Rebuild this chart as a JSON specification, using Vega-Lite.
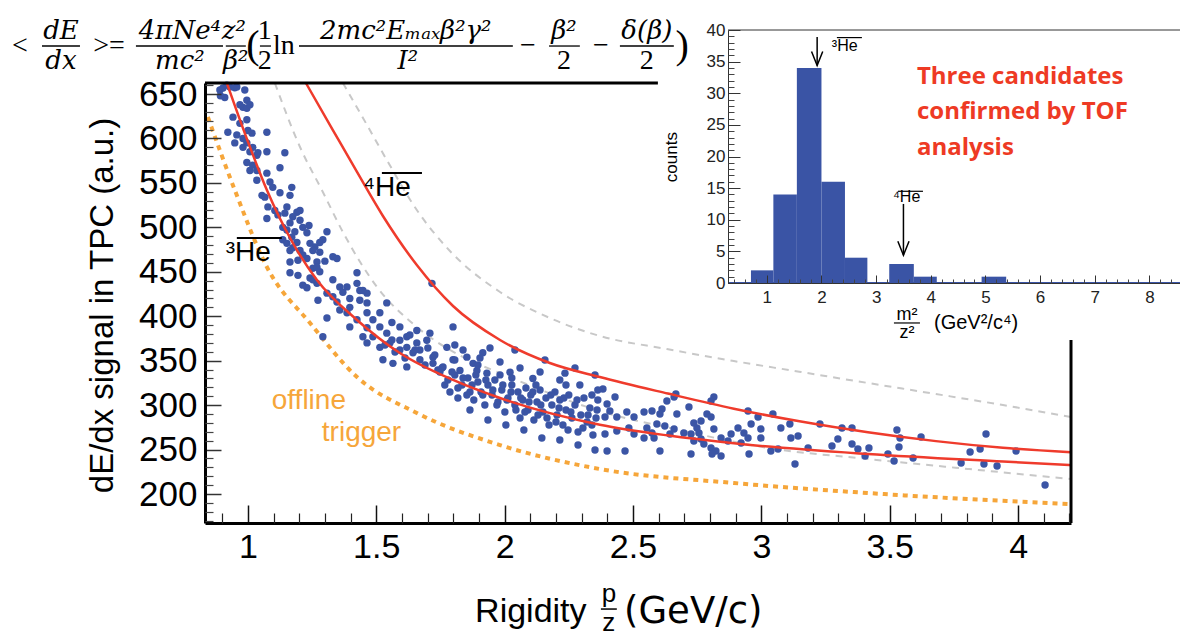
{
"$schema": "https://vega.github.io/schema/vega-lite/v6.json",
"width": 866, "height": 440,
"autosize": {"type": "none"},
"padding": {"left": 205, "top": 83, "right": 109, "bottom": 113},
"background": "white",
"config": {"view": {"stroke": null}, "axis": {"grid": false, "domain": false, "labelFlush": false, "labelOverlap": false, "labelFont": "Liberation Sans", "labelColor": "black", "tickColor": "#222", "title": null}},
"datasets": {
"one": [{}],
"grey": [
{"c":"g1","r":1.105,"s":662.4},{"c":"g1","r":1.203,"s":590.4},{"c":"g1","r":1.292,"s":539.8},{"c":"g1","r":1.370,"s":494.8},{"c":"g1","r":1.503,"s":432.9},{"c":"g1","r":1.658,"s":387.9},{"c":"g1","r":1.838,"s":354.1},{"c":"g1","r":1.982,"s":336.1},{"c":"g1","r":2.371,"s":293.4},{"c":"g1","r":2.698,"s":270.9},{"c":"g1","r":3.026,"s":251.8},{"c":"g1","r":3.415,"s":239.4},{"c":"g1","r":3.809,"s":228.1},{"c":"g1","r":4.206,"s":216.9},
{"c":"g2","r":1.370,"s":662.4},{"c":"g2","r":1.464,"s":615.1},{"c":"g2","r":1.541,"s":575.8},{"c":"g2","r":1.658,"s":519.5},{"c":"g2","r":1.787,"s":473.4},{"c":"g2","r":1.982,"s":427.3},{"c":"g2","r":2.176,"s":398},{"c":"g2","r":2.371,"s":377.8},{"c":"g2","r":2.632,"s":363.1},{"c":"g2","r":2.893,"s":349.6},{"c":"g2","r":3.154,"s":337.3},{"c":"g2","r":3.415,"s":324.9},{"c":"g2","r":3.680,"s":312.5},{"c":"g2","r":3.941,"s":300.1},{"c":"g2","r":4.206,"s":286.6}],
"orange": [
{"r":0.844,"s":624.1},{"r":0.949,"s":542},{"r":1.074,"s":455.4},{"r":1.242,"s":392.4},{"r":1.425,"s":331.6},{"r":1.658,"s":291.1},{"r":1.982,"s":255.1},{"r":2.371,"s":228.1},{"r":2.893,"s":212.4},{"r":3.415,"s":201.1},{"r":4.206,"s":188.5}],
"red": [
{"c":"he3","r":0.918,"s":662.4},{"c":"he3","r":1.008,"s":590.4},{"c":"he3","r":1.074,"s":542},{"c":"he3","r":1.175,"s":482.4},{"c":"he3","r":1.269,"s":440.8},{"c":"he3","r":1.425,"s":395.8},{"c":"he3","r":1.592,"s":358.6},{"c":"he3","r":1.799,"s":328.3},{"c":"he3","r":1.982,"s":308},{"c":"he3","r":2.371,"s":278},{"c":"he3","r":2.632,"s":266},{"c":"he3","r":2.893,"s":257},{"c":"he3","r":3.415,"s":245},{"c":"he3","r":3.941,"s":236.5},{"c":"he3","r":4.206,"s":232.5},
{"c":"he4","r":1.226,"s":662.4},{"c":"he4","r":1.331,"s":609.5},{"c":"he4","r":1.425,"s":562.3},{"c":"he4","r":1.526,"s":512.8},{"c":"he4","r":1.658,"s":457.6},{"c":"he4","r":1.799,"s":411.5},{"c":"he4","r":1.982,"s":373.3},{"c":"he4","r":2.176,"s":347.4},{"c":"he4","r":2.371,"s":331.6},{"c":"he4","r":2.636,"s":313},{"c":"he4","r":2.893,"s":296},{"c":"he4","r":3.154,"s":281.5},{"c":"he4","r":3.415,"s":269.5},{"c":"he4","r":3.680,"s":259.5},{"c":"he4","r":3.941,"s":252},{"c":"he4","r":4.206,"s":247}],
"points": [
{"r":0.891,"s":654.5},{"r":0.903,"s":656.8},{"r":0.930,"s":658},{"r":0.949,"s":657},{"r":0.893,"s":648},{"r":0.988,"s":654.5},{"r":0.996,"s":643},{"r":0.981,"s":635},{"r":0.996,"s":634},{"r":0.942,"s":624},{"r":0.969,"s":617},{"r":0.996,"s":621},{"r":0.922,"s":607},{"r":0.957,"s":604},{"r":0.981,"s":600},{"r":1.000,"s":609},{"r":1.016,"s":606},{"r":0.949,"s":595},{"r":0.981,"s":590},{"r":0.996,"s":595},{"r":1.019,"s":590},{"r":1.035,"s":581},{"r":0.996,"s":573},{"r":1.019,"s":570},{"r":1.008,"s":564},{"r":1.035,"s":564},{"r":1.035,"s":553},{"r":0.918,"s":660},{"r":0.910,"s":646},{"r":0.957,"s":658},{"r":1.008,"s":638},{"r":0.969,"s":638},{"r":1.074,"s":607},{"r":1.008,"s":585},{"r":1.039,"s":584},{"r":1.074,"s":585},{"r":1.144,"s":584},{"r":1.125,"s":567},{"r":1.074,"s":561},{"r":1.086,"s":551},{"r":1.097,"s":545},{"r":1.171,"s":545},{"r":1.125,"s":539},{"r":1.164,"s":536},{"r":1.055,"s":536},{"r":1.066,"s":534},{"r":1.078,"s":523},{"r":1.105,"s":519},{"r":1.074,"s":510},{"r":1.152,"s":523},{"r":1.144,"s":516},{"r":1.191,"s":517},{"r":1.175,"s":512},{"r":1.203,"s":508},{"r":1.203,"s":519},{"r":1.164,"s":505},{"r":1.214,"s":500},{"r":1.152,"s":497},{"r":1.183,"s":495},{"r":1.230,"s":494},{"r":1.308,"s":495},{"r":1.136,"s":486},{"r":1.171,"s":489},{"r":1.191,"s":483},{"r":1.242,"s":482},{"r":1.292,"s":486},{"r":1.175,"s":477},{"r":1.203,"s":474},{"r":1.261,"s":478},{"r":1.280,"s":472},{"r":1.331,"s":467},{"r":1.164,"s":461},{"r":1.195,"s":463},{"r":1.230,"s":465},{"r":1.269,"s":461},{"r":1.300,"s":462},{"r":1.164,"s":449},{"r":1.195,"s":446},{"r":1.253,"s":454},{"r":1.280,"s":450},{"r":1.242,"s":443},{"r":1.331,"s":441},{"r":1.269,"s":437},{"r":1.358,"s":433},{"r":1.425,"s":449},{"r":1.230,"s":432},{"r":1.308,"s":426},{"r":1.331,"s":422},{"r":1.370,"s":427},{"r":1.425,"s":437},{"r":1.436,"s":429},{"r":1.464,"s":426},{"r":1.273,"s":418},{"r":1.347,"s":416},{"r":1.397,"s":420},{"r":1.436,"s":418},{"r":1.358,"s":407},{"r":1.397,"s":410},{"r":1.464,"s":415},{"r":1.386,"s":404},{"r":1.425,"s":396},{"r":1.464,"s":404},{"r":1.487,"s":396},{"r":1.514,"s":404},{"r":1.541,"s":415},{"r":1.308,"s":398},{"r":1.397,"s":388},{"r":1.464,"s":387},{"r":1.514,"s":388},{"r":1.561,"s":393},{"r":1.592,"s":388},{"r":1.658,"s":384},{"r":1.709,"s":381},{"r":1.799,"s":388},{"r":1.448,"s":377},{"r":1.487,"s":377},{"r":1.541,"s":381},{"r":1.592,"s":373},{"r":1.619,"s":377},{"r":1.658,"s":370},{"r":1.697,"s":373},{"r":1.292,"s":377},{"r":1.464,"s":370},{"r":1.514,"s":365},{"r":1.553,"s":370},{"r":1.592,"s":362},{"r":1.619,"s":365},{"r":1.643,"s":359},{"r":1.670,"s":362},{"r":1.721,"s":354},{"r":1.775,"s":365},{"r":1.838,"s":362},{"r":1.853,"s":354},{"r":1.877,"s":347},{"r":1.915,"s":359},{"r":1.526,"s":351},{"r":1.565,"s":347},{"r":1.619,"s":343},{"r":1.670,"s":351},{"r":1.721,"s":347},{"r":1.760,"s":343},{"r":1.799,"s":351},{"r":1.826,"s":339},{"r":1.892,"s":339},{"r":1.931,"s":336},{"r":1.982,"s":334},{"r":2.021,"s":337},{"r":2.110,"s":330},{"r":2.235,"s":336},{"r":1.717,"s":437},{"r":1.117,"s":514},{"r":1.136,"s":500},{"r":1.238,"s":502},{"r":1.152,"s":482},{"r":1.280,"s":483},{"r":1.253,"s":474},{"r":1.164,"s":474},{"r":1.214,"s":469},{"r":1.347,"s":465},{"r":1.269,"s":455},{"r":1.253,"s":441},{"r":1.214,"s":435},{"r":1.386,"s":433},{"r":1.448,"s":429},
{"r":1.748,"s":337.3},{"r":1.767,"s":322.6},{"r":1.787,"s":314.8},{"r":1.806,"s":333.9},{"r":1.818,"s":308},{"r":1.834,"s":322.6},{"r":1.857,"s":330.5},{"r":1.865,"s":314.8},{"r":1.880,"s":305.8},{"r":1.896,"s":326},{"r":1.908,"s":314.8},{"r":1.923,"s":300.1},{"r":1.935,"s":322.6},{"r":1.951,"s":311.4},{"r":1.962,"s":328.3},{"r":1.974,"s":303.5},{"r":1.989,"s":317},{"r":2.001,"s":292.3},{"r":2.013,"s":308},{"r":2.028,"s":322.6},{"r":2.040,"s":300.1},{"r":2.052,"s":314.8},{"r":2.060,"s":285.5},{"r":2.071,"s":305.8},{"r":2.083,"s":319.3},{"r":2.091,"s":294.5},{"r":2.102,"s":311.4},{"r":2.114,"s":283.3},{"r":2.126,"s":303.5},{"r":2.138,"s":317},{"r":2.149,"s":292.3},{"r":2.161,"s":308},{"r":2.173,"s":277.6},{"r":2.184,"s":300.1},{"r":2.196,"s":314.8},{"r":2.204,"s":288.9},{"r":2.215,"s":305.8},{"r":2.227,"s":277.6},{"r":2.239,"s":294.5},{"r":2.250,"s":311.4},{"r":2.262,"s":285.5},{"r":2.274,"s":300.1},{"r":2.286,"s":269.8},{"r":2.297,"s":288.9},{"r":2.309,"s":308},{"r":2.321,"s":281},{"r":2.332,"s":296.8},{"r":2.344,"s":266.4},{"r":2.356,"s":285.5},{"r":2.363,"s":305.8},{"r":1.865,"s":294.5},{"r":1.935,"s":283.3},{"r":2.005,"s":277.6},{"r":2.075,"s":272},{"r":2.145,"s":263},{"r":2.215,"s":260.8},{"r":2.286,"s":255.1},{"r":2.352,"s":249.5},{"r":1.904,"s":353},{"r":1.982,"s":348.5},{"r":2.060,"s":341.8},{"r":2.138,"s":337.3},{"r":2.215,"s":328.3},{"r":2.293,"s":322.6},{"r":2.363,"s":317},{"r":2.040,"s":362},{"r":2.157,"s":350.8},{"r":2.274,"s":341.8},{"r":2.352,"s":333.9},{"r":1.806,"s":367.6},{"r":1.943,"s":364.3},
{"r":1.756,"s":341.8},{"r":1.779,"s":328.3},{"r":1.795,"s":337.3},{"r":1.818,"s":319.3},{"r":1.838,"s":330.5},{"r":1.853,"s":311.4},{"r":1.873,"s":322.6},{"r":1.888,"s":333.9},{"r":1.915,"s":311.4},{"r":1.927,"s":328.3},{"r":1.954,"s":317},{"r":1.970,"s":300.1},{"r":1.993,"s":322.6},{"r":2.009,"s":305.8},{"r":2.025,"s":314.8},{"r":2.044,"s":294.5},{"r":2.063,"s":308},{"r":2.079,"s":292.3},{"r":2.095,"s":303.5},{"r":2.110,"s":314.8},{"r":2.130,"s":288.9},{"r":2.141,"s":300.1},{"r":2.165,"s":285.5},{"r":2.180,"s":311.4},{"r":2.200,"s":281},{"r":2.212,"s":296.8},{"r":2.231,"s":308},{"r":2.247,"s":272},{"r":2.258,"s":292.3},{"r":2.282,"s":305.8},{"r":2.305,"s":274.3},{"r":2.325,"s":288.9},{"r":2.340,"s":277.6},{"r":2.360,"s":294.5},{"r":1.806,"s":350.8},{"r":1.896,"s":345.1},{"r":2.028,"s":330.5},{"r":2.122,"s":322.6},{"r":2.239,"s":322.6},{"r":2.340,"s":311.4},
{"r":1.534,"s":367.6},{"r":1.573,"s":359.8},{"r":1.612,"s":353},{"r":1.651,"s":362},{"r":1.690,"s":345.1},{"r":1.728,"s":356.4},{"r":1.561,"s":373.3},{"r":1.631,"s":378.9},{"r":1.701,"s":364.3},{"r":1.740,"s":339.5},
{"r":2.383,"s":318.1},{"r":2.430,"s":309.1},{"r":2.399,"s":301.3},{"r":2.410,"s":293.4},{"r":2.391,"s":286.6},{"r":2.437,"s":286.6},{"r":2.476,"s":292.3},{"r":2.504,"s":286.6},{"r":2.543,"s":292.3},{"r":2.574,"s":293.4},{"r":2.613,"s":295.6},{"r":2.667,"s":312.5},{"r":2.671,"s":290},{"r":2.484,"s":274.3},{"r":2.504,"s":267.5},{"r":2.437,"s":270.9},{"r":2.391,"s":267.5},{"r":2.399,"s":248.4},{"r":2.469,"s":248.4},{"r":2.543,"s":263},{"r":2.574,"s":268.6},{"r":2.593,"s":278.8},{"r":2.624,"s":276.5},{"r":2.644,"s":267.5},{"r":2.660,"s":273.1},{"r":2.698,"s":268.6},{"r":2.605,"s":248.4},{"r":2.726,"s":245},{"r":2.737,"s":259.6},{"r":2.726,"s":267.5},{"r":2.749,"s":274.3},{"r":2.765,"s":282.1},{"r":2.788,"s":290},{"r":2.804,"s":286.6},{"r":2.815,"s":273.1},{"r":2.757,"s":268.6},{"r":2.765,"s":261.9},{"r":2.776,"s":256.3},{"r":2.804,"s":251.8},{"r":2.804,"s":304.6},{"r":2.815,"s":309.1},{"r":2.823,"s":248.4},{"r":2.843,"s":242.8},{"r":2.882,"s":267.5},{"r":2.909,"s":274.3},{"r":2.932,"s":268.6},{"r":2.921,"s":257.4},{"r":2.948,"s":263},{"r":2.960,"s":278.8},{"r":2.987,"s":286.6},{"r":2.998,"s":273.1},{"r":2.998,"s":263},{"r":3.045,"s":290},{"r":3.076,"s":274.3},{"r":3.111,"s":278.8},{"r":3.115,"s":263},{"r":3.143,"s":265.3},{"r":3.182,"s":251.8},{"r":3.131,"s":233.8},{"r":2.948,"s":293.4},{"r":2.952,"s":245},{"r":3.037,"s":248.4},{"r":3.065,"s":250.6},{"r":3.228,"s":278.8},{"r":3.275,"s":254},{"r":3.298,"s":261.9},{"r":3.314,"s":274.3},{"r":3.353,"s":274.3},{"r":3.353,"s":256.3},{"r":3.376,"s":250.6},{"r":3.404,"s":242.8},{"r":3.419,"s":251.8},{"r":2.554,"s":274.3},{"r":2.582,"s":263},{"r":2.632,"s":304.6},{"r":2.605,"s":290},{"r":2.718,"s":297.9},{"r":2.808,"s":245},{"r":2.843,"s":263},{"r":2.870,"s":259.6},{"r":2.660,"s":309.1},{"r":2.737,"s":279.9},
{"r":3.528,"s":272},{"r":3.540,"s":263},{"r":3.536,"s":252.9},{"r":3.493,"s":245},{"r":3.517,"s":237.1},{"r":3.591,"s":240.5},{"r":3.622,"s":264.1},{"r":3.778,"s":234.9},{"r":3.813,"s":247.3},{"r":3.852,"s":250.6},{"r":3.875,"s":267.5},{"r":3.867,"s":233.8},{"r":3.918,"s":231.5},{"r":3.992,"s":248.4},{"r":4.105,"s":210.1}],
"heMain": [{"t":"⁴He","r":1.448,"s":544},{"t":"³He","r":0.914,"s":471}],
"ovMain": [{"r":1.522,"r2":1.678,"s":561.1},{"r":0.957,"r2":1.132,"s":488}],
"trig": [{"t":"offline","r":1.093,"s":304.6},{"t":"trigger","r":1.288,"s":268.6}],
"fItalic": [{"t":"dE","r":0.272,"s":720.9},{"t":"dx","r":0.272,"s":687.1},{"t":"4πNe⁴","r":0.735,"s":720.9},{"t":"mc²","r":0.735,"s":687.1},{"t":"z²","r":0.945,"s":720.9},{"t":"β²","r":0.953,"s":687.1},{"t":"2mc²Eₘₐₓβ²γ²","r":1.615,"s":720.9},{"t":"I²","r":1.623,"s":687.1},{"t":"β²","r":2.231,"s":720.9},{"t":"δ(β)","r":2.554,"s":720.9}],
"fUpright": [{"t":"<","r":0.112,"s":704},{"t":">=","r":0.459,"s":704},{"t":"1","r":1.066,"s":720.9},{"t":"2","r":1.066,"s":687.1},{"t":"ln","r":1.140,"s":704},{"t":"−","r":2.091,"s":704},{"t":"2","r":2.231,"s":687.1},{"t":"−","r":2.375,"s":704},{"t":"2","r":2.554,"s":687.1}],
"fParen": [{"t":"(","r":1.020,"s":704},{"t":")","r":2.691,"s":704}],
"fBars": [{"r":0.198,"r2":0.346,"s":704},{"r":0.564,"r2":0.903,"s":704},{"r":0.914,"r2":0.992,"s":704},{"r":1.047,"r2":1.090,"s":704},{"r":1.199,"r2":2.032,"s":704},{"r":2.173,"r2":2.293,"s":704},{"r":2.449,"r2":2.659,"s":704}],
"hist": [{"lo":0.71,"hi":1.12,"n":2},{"lo":1.12,"hi":1.55,"n":14},{"lo":1.55,"hi":2.0,"n":34},{"lo":2.0,"hi":2.43,"n":16},{"lo":2.43,"hi":2.84,"n":4},{"lo":3.24,"hi":3.69,"n":3},{"lo":3.69,"hi":4.11,"n":1},{"lo":4.93,"hi":5.38,"n":1}],
"arrows": [{"m":1.921,"top":38.9,"tip":34.4},{"m":3.5,"top":12.5,"tip":4.4}],
"heInset": [{"t":"³He","m":2.19,"n":37.5},{"t":"⁴He","m":3.308,"n":13.6}],
"ovInset": [{"m":2.282,"m2":2.74,"n":38.8},{"m":3.40,"m2":3.857,"n":14.5}]
},
"layer": [
{
"layer": [
{"data": {"name": "grey"}, "mark": {"type": "line", "color": "#c8c8c8", "strokeWidth": 2, "strokeDash": [7, 6], "interpolate": "monotone"},
 "encoding": {
  "x": {"field": "r", "type": "quantitative", "scale": {"domain": [0.833, 4.206], "nice": false, "zero": false},
        "axis": {"orient": "bottom", "zindex": 1, "values": [1, 1.5, 2, 2.5, 3, 3.5, 4], "format": "~g", "tickSize": -18, "tickWidth": 1.5, "tickColor": "#111", "labelPadding": 25, "labelFontSize": 34, "domain": true, "domainColor": "black", "domainWidth": 3}},
  "y": {"field": "s", "type": "quantitative", "scale": {"domain": [167.4, 662.4], "nice": false, "zero": false},
        "axis": {"orient": "left", "zindex": 1, "values": [200, 250, 300, 350, 400, 450, 500, 550, 600, 650], "tickSize": -16, "tickWidth": 1.5, "tickColor": "#333", "labelPadding": 24, "labelFontSize": 35, "domain": true, "domainColor": "black", "domainWidth": 3,
                 "title": "dE/dx signal in TPC (a.u.)", "titleFont": "Liberation Sans", "titleFontSize": 33, "titleFontWeight": "normal", "titleColor": "black", "titleX": -103, "titleY": 222, "titleAngle": -90, "titleAlign": "center", "titleBaseline": "middle"}},
  "detail": {"field": "c"}}},
{"data": {"name": "orange"}, "mark": {"type": "line", "color": "#f6a63a", "strokeWidth": 4, "strokeDash": [5, 5], "interpolate": "monotone"},
 "encoding": {
  "x": {"field": "r", "type": "quantitative", "axis": {"orient": "bottom", "zindex": 1, "values": [0.9,1.1,1.2,1.3,1.4,1.6,1.7,1.8,1.9,2.1,2.2,2.3,2.4,2.6,2.7,2.8,2.9,3.1,3.2,3.3,3.4,3.6,3.7,3.8,3.9,4.1,4.2], "tickSize": -10, "tickWidth": 1.2, "tickColor": "#222", "labels": false}},
  "y": {"field": "s", "type": "quantitative", "axis": {"orient": "left", "zindex": 1, "values": [170,180,190,210,220,230,240,260,270,280,290,310,320,330,340,360,370,380,390,410,420,430,440,460,470,480,490,510,520,530,540,560,570,580,590,610,620,630,640,660], "tickSize": -8, "tickWidth": 1.2, "tickColor": "#444", "labels": false}}}},
{"data": {"name": "points"}, "mark": {"type": "circle", "size": 55, "color": "#3b55a5", "opacity": 1},
 "encoding": {"x": {"field": "r", "type": "quantitative", "axis": null}, "y": {"field": "s", "type": "quantitative", "axis": null}}},
{"data": {"name": "red"}, "mark": {"type": "line", "color": "#ef3b2c", "strokeWidth": 2.5, "interpolate": "monotone"},
 "encoding": {"x": {"field": "r", "type": "quantitative", "axis": null}, "y": {"field": "s", "type": "quantitative", "axis": null}, "detail": {"field": "c"}}},
{"data": {"name": "heMain"}, "mark": {"type": "text", "font": "Liberation Sans", "fontSize": 28, "align": "left", "baseline": "middle", "color": "black"},
 "encoding": {"x": {"field": "r", "type": "quantitative", "axis": null}, "y": {"field": "s", "type": "quantitative", "axis": null}, "text": {"field": "t"}}},
{"data": {"name": "ovMain"}, "mark": {"type": "rule", "color": "black", "strokeWidth": 2},
 "encoding": {"x": {"field": "r", "type": "quantitative", "axis": null}, "x2": {"field": "r2"}, "y": {"field": "s", "type": "quantitative", "axis": null}}},
{"data": {"name": "trig"}, "mark": {"type": "text", "font": "Liberation Sans", "fontSize": 28, "align": "left", "baseline": "middle", "color": "#f6a63a"},
 "encoding": {"x": {"field": "r", "type": "quantitative", "axis": null}, "y": {"field": "s", "type": "quantitative", "axis": null}, "text": {"field": "t"}}},
{"data": {"name": "one"}, "mark": {"type": "rect", "color": "white"},
 "encoding": {"x": {"datum": 2.597, "type": "quantitative", "axis": null}, "x2": {"datum": 4.8}, "y": {"datum": 373.3, "type": "quantitative", "axis": null}, "y2": {"datum": 770}}},
{"data": {"name": "one"}, "mark": {"type": "rule", "color": "black", "strokeWidth": 3},
 "encoding": {"x": {"datum": 0.833, "type": "quantitative", "axis": null}, "x2": {"datum": 2.597}, "y": {"datum": 662.4, "type": "quantitative", "axis": null}}},
{"data": {"name": "one"}, "mark": {"type": "rule", "color": "black", "strokeWidth": 3},
 "encoding": {"x": {"datum": 4.206, "type": "quantitative", "axis": null}, "y": {"datum": 373.3, "type": "quantitative", "axis": null}, "y2": {"datum": 167.4}}},
{"data": {"name": "fItalic"}, "mark": {"type": "text", "font": "DejaVu Serif", "fontStyle": "italic", "fontSize": 26, "align": "center", "baseline": "middle", "color": "black"},
 "encoding": {"x": {"field": "r", "type": "quantitative", "axis": null}, "y": {"field": "s", "type": "quantitative", "axis": null}, "text": {"field": "t"}}},
{"data": {"name": "fUpright"}, "mark": {"type": "text", "font": "Liberation Serif", "fontSize": 28, "align": "center", "baseline": "middle", "color": "black"},
 "encoding": {"x": {"field": "r", "type": "quantitative", "axis": null}, "y": {"field": "s", "type": "quantitative", "axis": null}, "text": {"field": "t"}}},
{"data": {"name": "fParen"}, "mark": {"type": "text", "font": "Liberation Serif", "fontSize": 40, "align": "center", "baseline": "middle", "color": "black"},
 "encoding": {"x": {"field": "r", "type": "quantitative", "axis": null}, "y": {"field": "s", "type": "quantitative", "axis": null}, "text": {"field": "t"}}},
{"data": {"name": "fBars"}, "mark": {"type": "rule", "color": "black", "strokeWidth": 1.3},
 "encoding": {"x": {"field": "r", "type": "quantitative", "axis": null}, "x2": {"field": "r2"}, "y": {"field": "s", "type": "quantitative", "axis": null}}},
{"data": {"name": "one"}, "mark": {"type": "text", "text": "Rigidity", "font": "Liberation Sans", "fontSize": 34, "align": "center", "baseline": "middle", "color": "black"},
 "encoding": {"x": {"datum": 2.102, "type": "quantitative", "axis": null}, "y": {"datum": 67.3, "type": "quantitative", "axis": null}}},
{"data": {"name": "one"}, "mark": {"type": "text", "text": "(GeV/c)", "font": "DejaVu Sans", "fontSize": 37, "align": "left", "baseline": "middle", "color": "black"},
 "encoding": {"x": {"datum": 2.465, "type": "quantitative", "axis": null}, "y": {"datum": 67.3, "type": "quantitative", "axis": null}}},
{"data": {"name": "one"}, "mark": {"type": "text", "text": "p", "font": "Liberation Sans", "fontSize": 26, "align": "center", "baseline": "middle", "color": "black"},
 "encoding": {"x": {"datum": 2.406, "type": "quantitative", "axis": null}, "y": {"datum": 88, "type": "quantitative", "axis": null}}},
{"data": {"name": "one"}, "mark": {"type": "text", "text": "z", "font": "Liberation Sans", "fontSize": 26, "align": "center", "baseline": "middle", "color": "black"},
 "encoding": {"x": {"datum": 2.406, "type": "quantitative", "axis": null}, "y": {"datum": 55, "type": "quantitative", "axis": null}}},
{"data": {"name": "one"}, "mark": {"type": "rule", "color": "black", "strokeWidth": 1.5},
 "encoding": {"x": {"datum": 2.375, "type": "quantitative", "axis": null}, "x2": {"datum": 2.437}, "y": {"datum": 70.6, "type": "quantitative", "axis": null}}}
],
"resolve": {"axis": {"x": "independent", "y": "independent"}}
},
{
"layer": [
{"data": {"name": "hist"}, "mark": {"type": "rect", "color": "#3a54a5"},
 "encoding": {
  "x": {"field": "lo", "type": "quantitative", "scale": {"domain": [0.29, 8.56], "range": [523, 975], "nice": false, "zero": false},
        "axis": {"orient": "bottom", "zindex": 1, "offset": -240, "values": [1, 2, 3, 4, 5, 6, 7, 8], "tickSize": -8, "tickColor": "#333", "labelPadding": 14, "labelFontSize": 17, "labelColor": "#222", "domain": true, "domainColor": "#333", "domainWidth": 1}},
  "x2": {"field": "hi"},
  "y": {"field": "n", "type": "quantitative", "scale": {"domain": [0, 40], "range": [200, -53], "nice": false, "zero": false},
        "axis": {"orient": "left", "zindex": 1, "offset": -523, "values": [0, 5, 10, 15, 20, 25, 30, 35, 40], "tickSize": -12, "tickColor": "#333", "labelPadding": 15, "labelFontSize": 17, "labelColor": "#222", "domain": true, "domainColor": "#333", "domainWidth": 1}},
  "y2": {"datum": 0}}},
{"data": {"name": "one"}, "mark": {"type": "rule", "color": "#3a54a5", "strokeWidth": 2},
 "encoding": {"x": {"datum": 0.29, "type": "quantitative", "axis": null}, "x2": {"datum": 8.56}, "y": {"datum": 0, "type": "quantitative", "axis": null}}},
{"data": {"name": "one"}, "mark": {"type": "rule", "color": "#333", "strokeWidth": 1},
 "encoding": {"x": {"datum": 0.29, "type": "quantitative", "axis": null}, "x2": {"datum": 8.56}, "y": {"datum": 40, "type": "quantitative", "axis": null}}},
{"data": {"name": "arrows"}, "mark": {"type": "rule", "color": "black", "strokeWidth": 1.5},
 "encoding": {
  "x": {"field": "m", "type": "quantitative", "axis": {"orient": "bottom", "zindex": 1, "offset": -240, "values": [0.4,0.6,0.8,1.2,1.4,1.6,1.8,2.2,2.4,2.6,2.8,3.2,3.4,3.6,3.8,4.2,4.4,4.6,4.8,5.2,5.4,5.6,5.8,6.2,6.4,6.6,6.8,7.2,7.4,7.6,7.8,8.2,8.4], "tickSize": -4, "tickColor": "#444", "labels": false}},
  "y": {"field": "top", "type": "quantitative", "axis": {"orient": "left", "zindex": 1, "offset": -523, "values": [1,2,3,4,6,7,8,9,11,12,13,14,16,17,18,19,21,22,23,24,26,27,28,29,31,32,33,34,36,37,38,39], "tickSize": -6, "tickColor": "#444", "labels": false}},
  "y2": {"field": "tip"}}},
{"data": {"name": "arrows"}, "mark": {"type": "point", "shape": "M-0.4,-1L0,0L0.4,-1", "size": 784, "filled": false, "color": "black", "strokeWidth": 1.5, "opacity": 1},
 "encoding": {"x": {"field": "m", "type": "quantitative", "axis": null}, "y": {"field": "tip", "type": "quantitative", "axis": null}}},
{"data": {"name": "heInset"}, "mark": {"type": "text", "font": "Liberation Sans", "fontSize": 16, "align": "left", "baseline": "middle", "color": "black"},
 "encoding": {"x": {"field": "m", "type": "quantitative", "axis": null}, "y": {"field": "n", "type": "quantitative", "axis": null}, "text": {"field": "t"}}},
{"data": {"name": "ovInset"}, "mark": {"type": "rule", "color": "black", "strokeWidth": 1.2},
 "encoding": {"x": {"field": "m", "type": "quantitative", "axis": null}, "x2": {"field": "m2"}, "y": {"field": "n", "type": "quantitative", "axis": null}}},
{"data": {"name": "one"}, "mark": {"type": "text", "text": "counts", "font": "Liberation Sans", "fontSize": 17, "angle": 270, "align": "center", "baseline": "middle", "color": "black"},
 "encoding": {"x": {"datum": -0.74, "type": "quantitative", "axis": null}, "y": {"datum": 19.9, "type": "quantitative", "axis": null}}},
{"data": {"name": "one"}, "mark": {"type": "text", "text": ["Three candidates", "confirmed by TOF", "analysis"], "font": "Open Sans", "fontWeight": "bold", "fontSize": 24, "lineHeight": 35.5, "align": "left", "baseline": "alphabetic", "color": "#ee3a24"},
 "encoding": {"x": {"datum": 3.747, "type": "quantitative", "axis": null}, "y": {"datum": 31.5, "type": "quantitative", "axis": null}}},
{"data": {"name": "one"}, "mark": {"type": "text", "text": "m²", "font": "Liberation Sans", "fontSize": 18, "align": "center", "baseline": "middle", "color": "black"},
 "encoding": {"x": {"datum": 3.564, "type": "quantitative", "axis": null}, "y": {"datum": -5.06, "type": "quantitative", "axis": null}}},
{"data": {"name": "one"}, "mark": {"type": "text", "text": "z²", "font": "Liberation Sans", "fontSize": 18, "align": "center", "baseline": "middle", "color": "black"},
 "encoding": {"x": {"datum": 3.564, "type": "quantitative", "axis": null}, "y": {"datum": -7.9, "type": "quantitative", "axis": null}}},
{"data": {"name": "one"}, "mark": {"type": "text", "text": "(GeV²/c⁴)", "font": "Liberation Sans", "fontSize": 20, "align": "left", "baseline": "middle", "color": "black"},
 "encoding": {"x": {"datum": 4.059, "type": "quantitative", "axis": null}, "y": {"datum": -6.32, "type": "quantitative", "axis": null}}},
{"data": {"name": "one"}, "mark": {"type": "rule", "color": "black", "strokeWidth": 1.2},
 "encoding": {"x": {"datum": 3.326, "type": "quantitative", "axis": null}, "x2": {"datum": 3.802}, "y": {"datum": -6.32, "type": "quantitative", "axis": null}}}
],
"resolve": {"axis": {"x": "independent", "y": "independent"}}
}
],
"resolve": {"scale": {"x": "independent", "y": "independent"}}
}
